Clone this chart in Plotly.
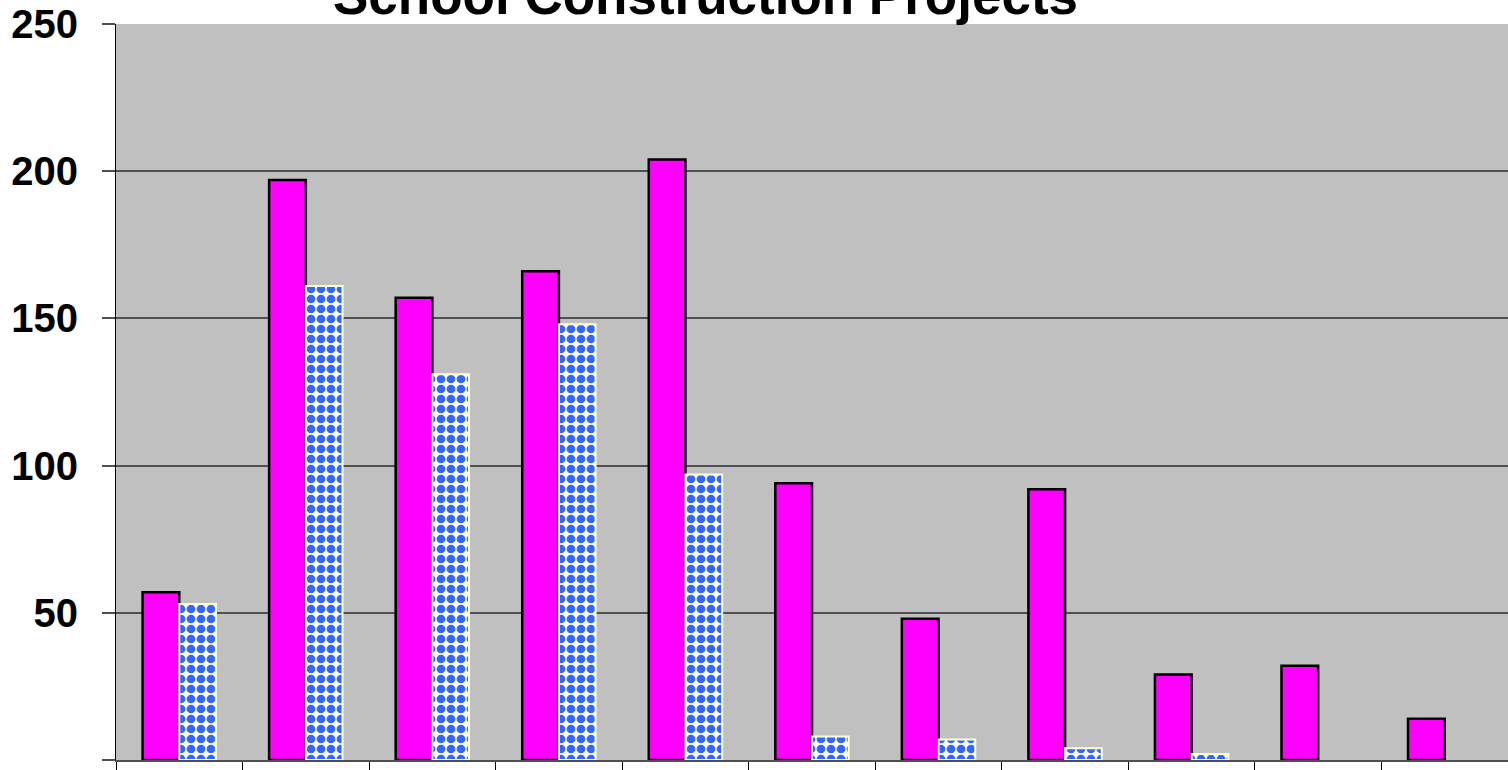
import plotly.graph_objects as go

categories = ["C1", "C2", "C3", "C4", "C5", "C6", "C7", "C8", "C9", "C10", "C11"]
series_a = [57, 197, 157, 166, 204, 94, 48, 92, 29, 32, 14]
series_b = [53, 161, 131, 148, 97, 8, 7, 4, 2, 0, 0]
y_ticks = [0, 50, 100, 150, 200, 250]
title_text = "School Construction Projects"

fig = go.Figure()
fig.add_trace(go.Bar(
    x=categories, y=series_a, name="Series 1",
    marker=dict(color="#FF00FF", line=dict(color="black", width=2.5)),
))
fig.add_trace(go.Bar(
    x=categories, y=series_b, name="Series 2",
    marker=dict(
        color="white",
        line=dict(color="#FFFFCC", width=[2 if v > 0 else 0 for v in series_b]),
        pattern=dict(shape=".", fgcolor="#3366FF", bgcolor="white", fgopacity=1,
                     fillmode="replace", size=10, solidity=0.6),
    ),
))

fig.update_layout(
    width=1508, height=770,
    margin=dict(l=116, r=0, t=24, b=10),
    paper_bgcolor="white",
    plot_bgcolor="#C0C0C0",
    barmode="group",
    bargap=0.42,
    bargroupgap=0,
    showlegend=False,
    font=dict(family="Liberation Sans, Arial, sans-serif", color="black"),
    xaxis=dict(
        showticklabels=False,
        tickson="boundaries",
        ticks="outside", ticklen=10, tickcolor="black", tickwidth=1,
        showline=True, linecolor="#505050", linewidth=1.5,
        showgrid=False,
    ),
    yaxis=dict(
        range=[0, 250],
        tickvals=y_ticks,
        ticks="outside", ticklen=13, tickcolor="#505050", tickwidth=1.5,
        showline=True, linecolor="black", linewidth=1,
        showgrid=True, gridcolor="#505050", gridwidth=1.5,
        zeroline=False,
        tickfont=dict(size=40, family="Liberation Sans, Arial, sans-serif", color="black", weight="bold"),
        ticklabelstandoff=16,
    ),
    annotations=[dict(
        text="<b>" + title_text + "</b>",
        xref="paper", yref="paper",
        x=(705 - 116) / 1392, y=(760 + 4) / 736,
        xanchor="center", yanchor="middle",
        showarrow=False,
        font=dict(size=53, family="Liberation Sans, Arial, sans-serif", color="black"),
    )],
)

fig.write_html("out.html", config={"displayModeBar": False},
               post_script="document.body.style.margin='0';document.body.style.overflow='hidden';")
